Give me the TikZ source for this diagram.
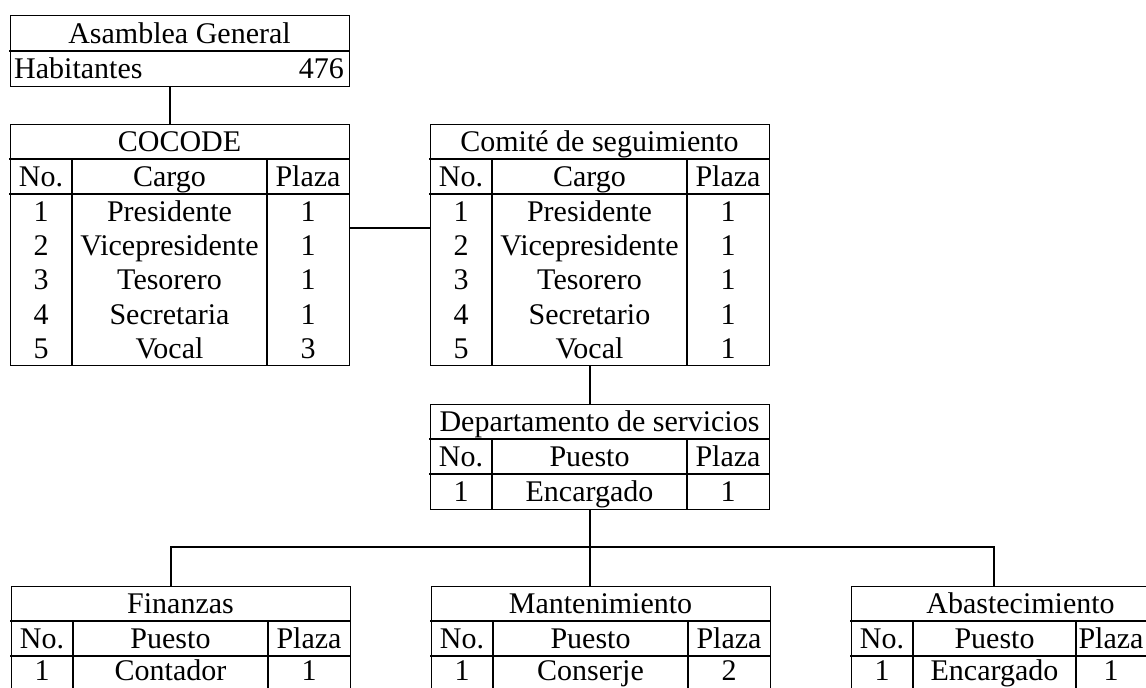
\documentclass[tikz,border=0pt]{standalone}
\usepackage{fontspec}
\setmainfont{Liberation Serif}
\tikzset{
  tline/.style={line width=1.2pt, line cap=rect, line join=miter},
  tbox/.style={draw, line width=1.2pt, anchor=north west, inner sep=0pt, minimum width=339pt},
  txt/.style={font=\fontsize{30}{35}\selectfont, inner sep=0pt, anchor=base},
}
% #1 name, #2 x, #3 y, #4 title, #5 column header, #6 body height, #7 offset of third column
\newcommand{\otab}[7]{%
  \node[tbox, minimum height=70pt+#6pt] (#1) at (#2,#3) {};
  \draw[tline] (#2,#3+35) -- ++(339,0) (#2,#3+70) -- ++(339,0)
     (#2+62,#3+35) -- ++(0,35+#6) (#2+#7,#3+35) -- ++(0,35+#6);
  \node[txt] (#1-t) at (#2+169.5,#3+27.5) {#4};
  \node[txt] (#1-ha) at (#2+31,#3+62.5) {No.};
  \node[txt] (#1-hb) at ({#2+31+#7/2},#3+62.5) {#5};
  \node[txt] (#1-hc) at ({min(#2+#7+41,1111)},#3+62.5) {Plaza};
}
% #1 name prefix, #2 x, #3 baseline y, #4 no, #5 cargo, #6 plaza, #7 offset of third column
\newcommand{\orow}[7]{%
  \node[txt] (#1a) at (#2+31,#3) {#4};
  \node[txt] (#1b) at ({#2+31+#7/2},#3) {#5};
  \node[txt] (#1c) at ({min(#2+#7+41,1111)},#3) {#6};
}
\begin{document}
\begin{tikzpicture}[x=1pt,y=-1pt]
\useasboundingbox (0,0) rectangle (1146,688);
\clip (0,0) rectangle (1146,688);

% Asamblea General
\node[tbox, minimum height=71pt] (asam) at (10,15) {};
\draw[tline] (10,51) -- (349,51);
\node[txt] (asam-t) at (179.5,43) {Asamblea General};
\node[txt, anchor=base west] (asam-h) at (14,78.5) {Habitantes};
\node[txt, anchor=base east] (asam-n) at (344,78.5) {476};

% COCODE
\otab{cocode}{10}{124}{COCODE}{Cargo}{171}{257}
\orow{cocode-r1}{10}{221.5}{1}{Presidente}{1}{257}
\orow{cocode-r2}{10}{255.7}{2}{Vicepresidente}{1}{257}
\orow{cocode-r3}{10}{289.9}{3}{Tesorero}{1}{257}
\orow{cocode-r4}{10}{324.1}{4}{Secretaria}{1}{257}
\orow{cocode-r5}{10}{358.3}{5}{Vocal}{3}{257}

% Comite de seguimiento
\otab{comite}{430}{124}{Comité de seguimiento}{Cargo}{171}{257}
\orow{comite-r1}{430}{221.5}{1}{Presidente}{1}{257}
\orow{comite-r2}{430}{255.7}{2}{Vicepresidente}{1}{257}
\orow{comite-r3}{430}{289.9}{3}{Tesorero}{1}{257}
\orow{comite-r4}{430}{324.1}{4}{Secretario}{1}{257}
\orow{comite-r5}{430}{358.3}{5}{Vocal}{1}{257}

% Departamento de servicios
\otab{dept}{430}{404}{Departamento de servicios}{Puesto}{35}{257}
\orow{dept-r1}{430}{501.5}{1}{Encargado}{1}{257}

% Bottom tables
\otab{fin}{11}{586}{Finanzas}{Puesto}{35}{257}
\orow{fin-r1}{11}{680}{1}{Contador}{1}{257}
\otab{mant}{431}{586}{Mantenimiento}{Puesto}{35}{257}
\orow{mant-r1}{431}{680}{1}{Conserje}{2}{257}
\otab{abast}{851}{586}{Abastecimiento}{Puesto}{35}{225}
\orow{abast-r1}{851}{680}{1}{Encargado}{1}{225}

% Connectors
\coordinate (k1) at (170,0);
\coordinate (k2) at (0,228);
\coordinate (k3) at (590,0);
\coordinate (k4) at (171,0);
\coordinate (k5) at (994,0);
\coordinate (bus) at (0,547);
\draw[tline] (asam.south -| k1) -- (cocode.north -| k1);
\draw[tline] (cocode.east |- k2) -- (comite.west |- k2);
\draw[tline] (comite.south -| k3) -- (dept.north -| k3);
\draw[tline] (dept.south -| k3) -- (mant.north -| k3);
\draw[tline] (fin.north -| k4) -- (bus -| k4) -- (bus -| k5) -- (abast.north -| k5);
\end{tikzpicture}
\end{document}
